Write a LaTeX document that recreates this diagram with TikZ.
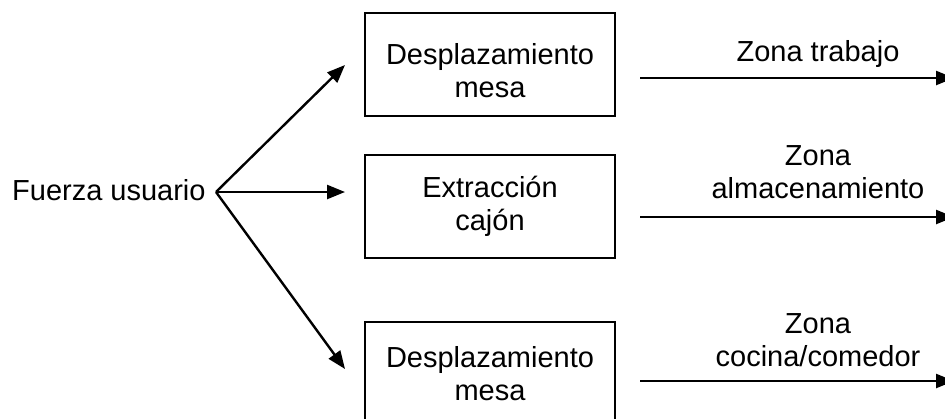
\documentclass[tikz,border=0pt]{standalone}
\usepackage{fontspec}
\setmainfont{Liberation Sans}
\usetikzlibrary{arrows.meta, positioning}

\begin{document}
\begin{tikzpicture}[x=0.5pt,y=-0.5pt,
  caja/.style={rectangle,draw,line width=1pt,minimum width=125pt,minimum height=51.5pt,align=center,inner sep=0pt,font=\fontsize{14.5}{16.7}\selectfont},
  etiq/.style={align=center,inner sep=0pt,text depth=0pt,anchor=south,font=\fontsize{14.5}{16.7}\selectfont},
  arr/.style={-{Triangle[length=9pt,width=7pt]},line width=1.2pt}
]
  \clip (0,0) rectangle (945,418);
  % entrada
  \node[anchor=east,inner sep=5pt,font=\fontsize{14.5}{16.7}\selectfont](fuerza) at (216,190){Fuerza usuario};
  \coordinate (fork) at (216,192);
  % cajas
  \node[caja,text height=33pt,text depth=0pt](c1) at (490,64.5) {Desplazamiento\\mesa};
  \node[caja](c2) at (490,206.5){Extracción\\cajón};
  \node[caja](c3) at (490,373.5){Desplazamiento\\mesa};
  \coordinate (p1) at (345,65);
  \coordinate (p2) at (345,192);
  \coordinate (p3) at (345,369);
  \draw[arr](fork)--(p1); \draw[arr](fork)--(p2); \draw[arr](fork)--(p3);
  % salidas
  \coordinate (s1) at (640,78);  \coordinate (e1) at (954,78);
  \coordinate (s2) at (640,217); \coordinate (e2) at (954,217);
  \coordinate (s3) at (640,381); \coordinate (e3) at (954,381);
  \draw[arr](s1)--(e1); \draw[arr](s2)--(e2); \draw[arr](s3)--(e3);
  \node[etiq](z1) at (818,62) {Zona trabajo};
  \node[etiq](z2) at (818,199){Zona\\almacenamiento};
  \node[etiq](z3) at (818,367){Zona\\cocina/comedor};
\end{tikzpicture}
\end{document}
